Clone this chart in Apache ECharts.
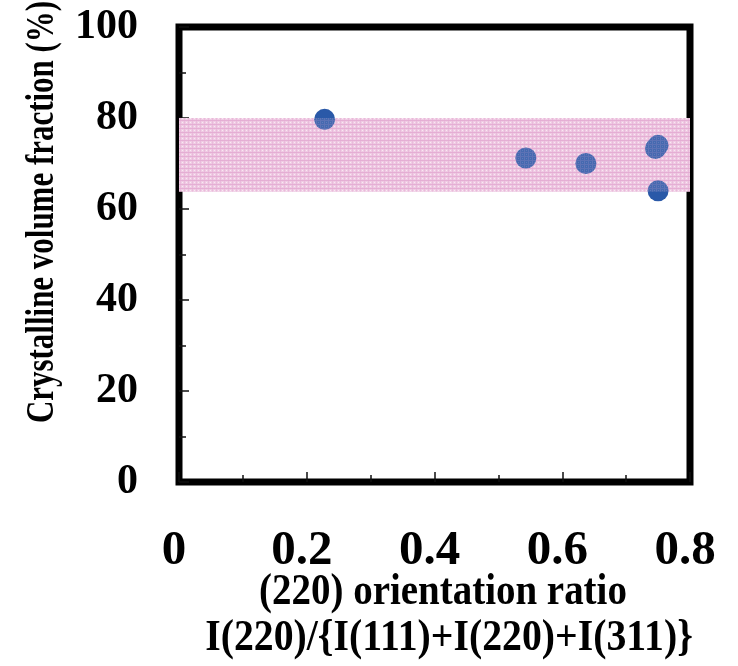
<!DOCTYPE html>
<html>
<head>
<meta charset="utf-8">
<script src="https://cdn.jsdelivr.net/npm/echarts@6/dist/echarts.min.js"></script>
<style>
html,body{margin:0;padding:0;background:#fff;}
#chart{width:738px;height:666px;}
</style>
</head>
<body>
<div id="chart"></div>
<script>
const xValues = [0.228, 0.543, 0.637, 0.746, 0.750, 0.750];
const yValues = [79.7, 71.2, 70.0, 73.3, 74.0, 64.0];
const bandRange = [63.8, 80];
const xTicks = [0, 0.2, 0.4, 0.6, 0.8];
const yTicks = [0, 20, 40, 60, 80, 100];
const yName = 'Crystalline volume fraction (%)';
const xName1 = '(220) orientation ratio';
const xName2 = 'I(220)/{I(111)+I(220)+I(311)}';

const FONT = '"Liberation Serif", "Times New Roman", serif';

function makePattern(alpha){
  const c = document.createElement('canvas');
  c.width = 4; c.height = 4;
  const g = c.getContext('2d');
  g.globalAlpha = alpha;
  g.fillStyle = '#efcbe3'; g.fillRect(0,0,4,4);
  g.fillStyle = '#e3aad1'; g.fillRect(0,0,4,1);
  g.fillStyle = '#e8b8d9'; g.fillRect(0,1,1,3);
  g.fillStyle = '#fbecf5'; g.fillRect(2,2,1,1);
  return c;
}
const under = makePattern(1);
const over = makePattern(0.14);

const chart = echarts.init(document.getElementById('chart'), null, {renderer:'canvas'});
const pts = xValues.map((x,i)=>[x, yValues[i]]);
const bandData = [[{xAxis:xTicks[0], yAxis:bandRange[1]},{xAxis:xTicks[xTicks.length-1], yAxis:bandRange[0]}]];

chart.setOption({
  animation:false,
  backgroundColor:'#fff',
  grid:{left:179, right:48, top:27, bottom:184, show:true, borderColor:'#000', borderWidth:7, backgroundColor:'transparent'},
  xAxis:{
    type:'value', min:0, max:0.8, interval:0.2,
    axisLine:{show:false},
    axisTick:{show:true, inside:true, length:10, lineStyle:{color:'#111', width:1.5}},
    minorTick:{show:true, splitNumber:2, length:7, lineStyle:{color:'#111', width:1.5}},
    splitLine:{show:false},
    axisLabel:{
      margin:45, fontFamily:FONT, fontWeight:'bold', fontSize:49, color:'#000',
      padding:[0,10,0,0],
      formatter:v=>{ const s = xTicks.find(t=>Math.abs(t-v)<1e-6); return s===0?'0':String(s); }
    }
  },
  yAxis:{
    type:'value', min:0, max:100, interval:20,
    axisLine:{show:false},
    axisTick:{show:true, inside:true, length:10, lineStyle:{color:'#111', width:1.5}},
    minorTick:{show:true, splitNumber:2, length:7, lineStyle:{color:'#111', width:1.5}},
    splitLine:{show:false},
    axisLabel:{
      margin:41, fontFamily:FONT, fontWeight:'bold', fontSize:42, color:'#000',
      formatter:v=>String(yTicks.find(t=>Math.abs(t-v)<1e-6))
    }
  },
  series:[
    {
      type:'scatter', z:1, data:[], silent:true,
      markArea:{ silent:true, z:1,
        itemStyle:{color:{image:under, repeat:'repeat'}, borderWidth:0},
        data:bandData }
    },
    {
      type:'scatter', z:3,
      symbol:'circle', symbolSize:21,
      itemStyle:{color:'#2a59a8', opacity:1},
      data:pts
    },
    {
      type:'scatter', z:6, data:[], silent:true,
      markArea:{ silent:true, z:6,
        itemStyle:{color:{image:over, repeat:'repeat'}, borderWidth:0},
        data:bandData }
    }
  ],
  graphic:[
    {type:'text', x:43, y:212, rotation:Math.PI/2, scaleX:0.86, scaleY:1.12,
     style:{text:yName, font:'bold 36px '+FONT, fill:'#000', align:'center', verticalAlign:'middle'}},
    {type:'text', x:443, y:593, scaleX:0.95, scaleY:1.08,
     style:{text:xName1, font:'bold 41px '+FONT, fill:'#000', align:'center', verticalAlign:'middle'}},
    {type:'text', x:449, y:639, scaleX:0.97, scaleY:1.08,
     style:{text:xName2, font:'bold 41px '+FONT, fill:'#000', align:'center', verticalAlign:'middle'}}
  ]
});
</script>
</body>
</html>
